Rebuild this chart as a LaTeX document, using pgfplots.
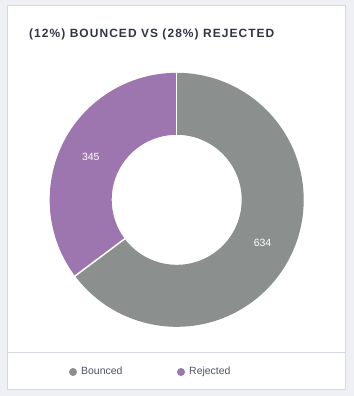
\documentclass[border=0pt]{standalone}
\usepackage{pgfplots}
\pgfplotsset{compat=1.18}
\usepackage{pgfplotstable}
\usetikzlibrary{calc}
\usepackage{fontspec}
\setmainfont{Liberation Sans}
\newfontfamily\titlefont[LetterSpace=9]{Liberation Sans}
\definecolor{bg}{HTML}{EFF0F5}
\definecolor{cardborder}{HTML}{D6D9DF}
\definecolor{bounced}{HTML}{8B908F}
\definecolor{rejected}{HTML}{9D76B0}
\definecolor{titlecol}{HTML}{2F3542}
\definecolor{legtext}{HTML}{4C5466}

\pgfplotstableread{
label value
Bounced 634
Rejected 345
}\donutdata

\begin{document}
\begin{tikzpicture}
\pgfplotstablegetelem{0}{value}\of\donutdata \let\vb\pgfplotsretval
\pgfplotstablegetelem{1}{value}\of\donutdata \let\vr\pgfplotsretval
\pgfmathsetmacro\tot{\vb+\vr}
\pgfmathsetmacro\aA{90}
\pgfmathsetmacro\aB{90-360*(\vb/\tot)}
\pgfmathsetmacro\aC{\aB-360*(\vr/\tot)}
\pgfmathsetmacro\mB{(\aA+\aB)/2}
\pgfmathsetmacro\mR{(\aB+\aC)/2}
\begin{axis}[x=1bp,y=1bp,xmin=0,xmax=354,ymin=0,ymax=396,hide axis,clip=false,enlargelimits=false]
\fill[bg] (axis cs:0,0) rectangle (axis cs:354,396);
\filldraw[fill=white, draw=cardborder, line width=1bp] (axis cs:7.5,6.5) rectangle (axis cs:345.5,390.5);
\draw[cardborder, line width=1bp] (axis cs:8,43.5) -- (axis cs:345,43.5);
% donut
\fill[bounced, shift={(axis cs:176.7,196.2)}] (\aA:127bp) arc[start angle=\aA, end angle=\aB, radius=127bp] -- (\aB:65bp) arc[start angle=\aB, end angle=\aA, radius=65bp] -- cycle;
\fill[rejected, shift={(axis cs:176.7,196.2)}] (\aB:127bp) arc[start angle=\aB, end angle=\aC, radius=127bp] -- (\aC:65bp) arc[start angle=\aC, end angle=\aB, radius=65bp] -- cycle;
\draw[white, line width=1.5bp, shift={(axis cs:176.7,196.2)}] (\aA:64bp) -- (\aA:128bp);
\draw[white, line width=1.5bp, shift={(axis cs:176.7,196.2)}] (\aB:64bp) -- (\aB:128bp);
\node[text=white, font=\fontsize{10.5}{12}\selectfont] at ($(axis cs:176.7,196.2)+(\mB:96bp)$) {\vb};
\node[text=white, font=\fontsize{10.5}{12}\selectfont] at ($(axis cs:176.7,196.2)+(\mR:96bp)$) {\vr};
% title
\node[anchor=base west, inner sep=0pt, text=titlecol, font=\titlefont\bfseries\fontsize{12}{14}\selectfont] at (axis cs:29,358.5) {(12\%) BOUNCED VS (28\%) REJECTED};
% legend
\fill[bounced] (axis cs:73,24) circle[radius=4bp];
\node[anchor=base west, inner sep=0pt, text=legtext, font=\fontsize{10.5}{12}\selectfont] at (axis cs:81,22) {Bounced};
\fill[rejected] (axis cs:181,24) circle[radius=4bp];
\node[anchor=base west, inner sep=0pt, text=legtext, font=\fontsize{10.5}{12}\selectfont] at (axis cs:189,22) {Rejected};
\end{axis}
\end{tikzpicture}
\end{document}
